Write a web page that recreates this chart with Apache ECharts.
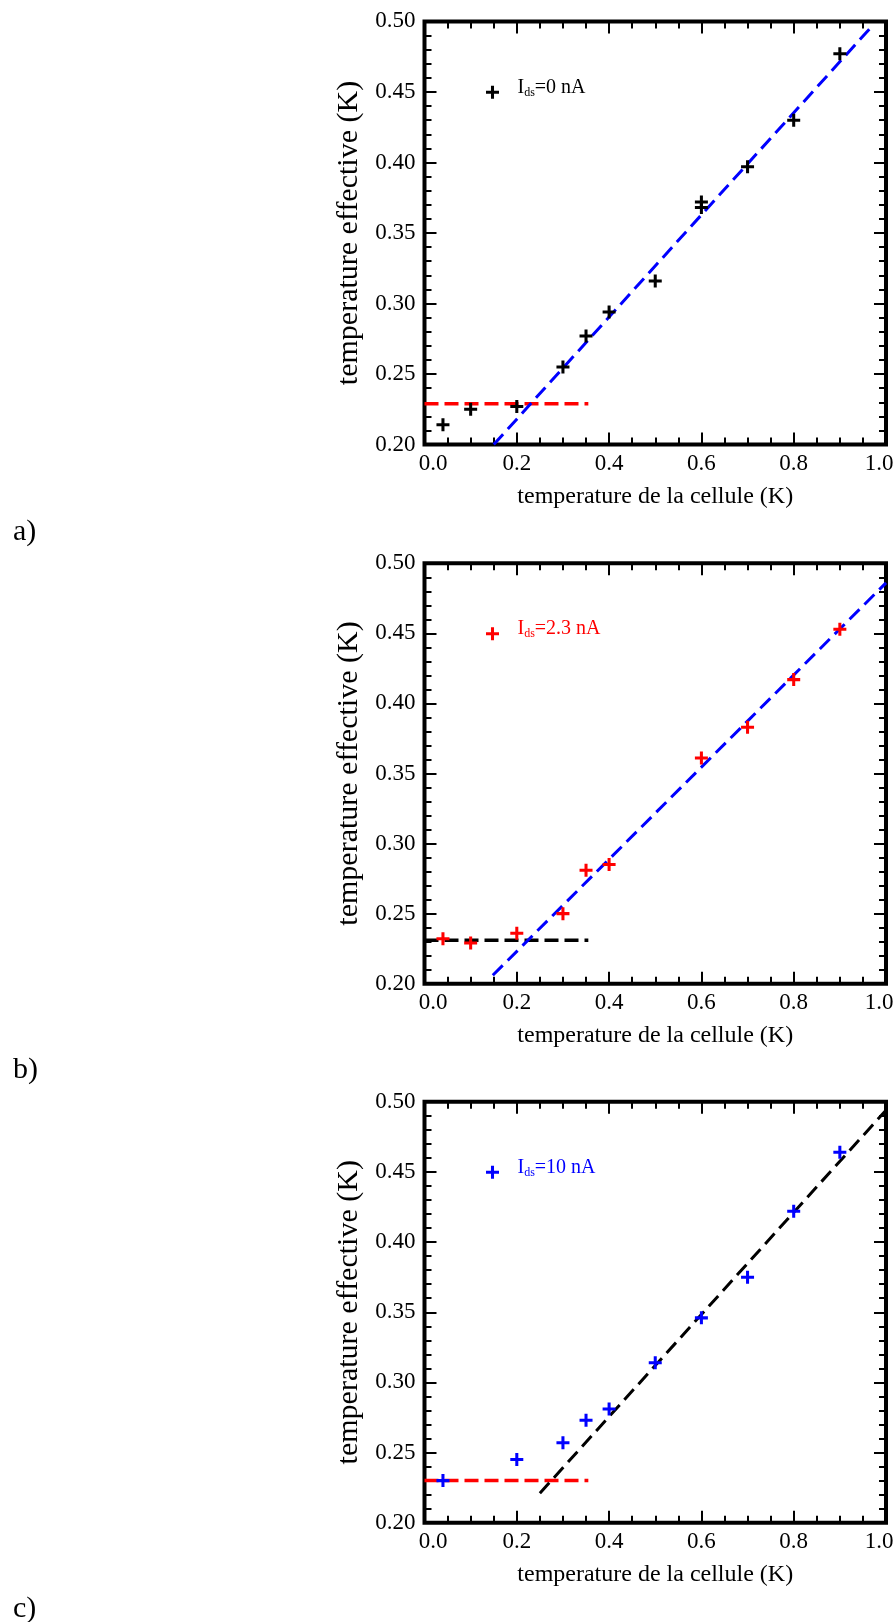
<!DOCTYPE html>
<html>
<head>
<meta charset="utf-8">
<script src="https://cdn.jsdelivr.net/npm/echarts@6/dist/echarts.min.js"></script>
<style>
html,body{margin:0;padding:0;background:#fff;}
#chart{width:895px;height:1622px;}
</style>
</head>
<body>
<div id="chart"></div>
<script>
// ---------------- data ----------------
const xTickInterval = 0.2;
const yTickInterval = 0.05;
const xRange = [0, 1.0];
const yRange = [0.20, 0.50];

const panelLetters = ['a)', 'b)', 'c)'];
const currentsNA = ['0', '2.3', '10'];
const xTitle = 'temperature de la cellule (K)';
const yTitle = 'temperature effective (K)';

// panel a : Ids = 0 nA
const aTcell = [0.04, 0.10, 0.20, 0.30, 0.35, 0.40, 0.50, 0.60, 0.60, 0.70, 0.80, 0.90];
const aTeff  = [0.214, 0.225, 0.227, 0.255, 0.277, 0.294, 0.316, 0.372, 0.368, 0.397, 0.430, 0.477];
const aFitX = [0.15, 0.968];
const aFitY = [0.200, 0.496];
const aFloorX = [0.0, 0.355];
const aFloorY = [0.229, 0.229];

// panel b : Ids = 2.3 nA
const bTcell = [0.04, 0.10, 0.20, 0.30, 0.35, 0.40, 0.60, 0.70, 0.80, 0.90];
const bTeff  = [0.232, 0.229, 0.236, 0.250, 0.281, 0.285, 0.361, 0.383, 0.417, 0.453];
const bFitX = [0.148, 1.0];
const bFitY = [0.206, 0.486];
const bFloorX = [0.0, 0.355];
const bFloorY = [0.231, 0.231];

// panel c : Ids = 10 nA
const cTcell = [0.04, 0.20, 0.30, 0.35, 0.40, 0.50, 0.60, 0.70, 0.80, 0.90];
const cTeff  = [0.230, 0.245, 0.257, 0.273, 0.281, 0.314, 0.346, 0.375, 0.422, 0.464];
const cFitX = [0.25, 1.0];
const cFitY = [0.221, 0.494];
const cFloorX = [0.0, 0.355];
const cFloorY = [0.230, 0.230];

const legendAnchorY = 0.449;

// ---------------- style / layout ----------------
const FONT = '"Liberation Serif","Times New Roman",Times,serif';
const CROSS = 'path://M4.6,0H7.4V4.6H12V7.4H7.4V12H4.6V7.4H0V4.6H4.6Z';
const BLACK = '#000000', RED = '#ff0000', BLUE = '#0000ff';
const GRID_LEFT = 424.5, GRID_WIDTH = 461.5;

const panels = [
  { tx: aTcell, ty: aTeff, fx: aFitX, fy: aFitY, hx: aFloorX, hy: aFloorY,
    color: BLACK, fitColor: BLUE, floorColor: RED, top: 21.4, height: 423.2, letterTop: 517 },
  { tx: bTcell, ty: bTeff, fx: bFitX, fy: bFitY, hx: bFloorX, hy: bFloorY,
    color: RED, fitColor: BLUE, floorColor: BLACK, top: 563.3, height: 420.4, letterTop: 1055 },
  { tx: cTcell, ty: cTeff, fx: cFitX, fy: cFitY, hx: cFloorX, hy: cFloorY,
    color: BLUE, fitColor: BLACK, floorColor: RED, top: 1101.8, height: 420.9, letterTop: 1594 }
];

const zip = (xs, ys) => xs.map((x, i) => [x, ys[i]]);

const grid = [], xAxis = [], yAxis = [], series = [], legend = [], title = [];

function tickSet(split) {
  return {
    axisLine: { show: false, onZero: false },
    splitLine: { show: false },
    axisTick: { show: true, inside: true, length: 12, lineStyle: { color: BLACK, width: 2 } },
    minorTick: { show: true, splitNumber: split, length: 7, lineStyle: { color: BLACK, width: 2 } }
  };
}

const xLabelFormatter = v => {
  const s = v.toFixed(1);
  if (v <= xRange[0]) return '{lo|' + s + '}';
  if (v >= xRange[1]) return '{hi|' + s + '}';
  return s;
};

panels.forEach((p, i) => {
  grid.push({
    left: GRID_LEFT, top: p.top, width: GRID_WIDTH, height: p.height,
    show: true, borderColor: BLACK, borderWidth: 4, backgroundColor: 'transparent',
    containLabel: false, outerBoundsMode: 'none'
  });

  const xBase = Object.assign(tickSet(4), {
    gridIndex: i, type: 'value', min: xRange[0], max: xRange[1], interval: xTickInterval
  });
  xAxis.push(Object.assign({}, xBase, {
    position: 'bottom',
    axisLabel: { show: true, margin: 8, color: BLACK, fontFamily: FONT, fontSize: 23,
      formatter: xLabelFormatter,
      rich: {
        lo: { fontFamily: FONT, fontSize: 23, color: BLACK, padding: [0, 0, 0, 17] },
        hi: { fontFamily: FONT, fontSize: 23, color: BLACK, padding: [0, 14, 0, 0] }
      } },
    name: xTitle, nameLocation: 'middle', nameGap: 40,
    nameTextStyle: { color: BLACK, fontFamily: FONT, fontSize: 24 }
  }));
  xAxis.push(Object.assign({}, xBase, { position: 'top', axisLabel: { show: false } }));

  const yBase = Object.assign(tickSet(5), {
    gridIndex: i, type: 'value', min: yRange[0], max: yRange[1], interval: yTickInterval
  });
  yAxis.push(Object.assign({}, yBase, {
    position: 'left',
    axisLabel: { show: true, margin: 9, color: BLACK, fontFamily: FONT, fontSize: 23,
      formatter: v => v.toFixed(2) },
    name: yTitle, nameLocation: 'middle', nameGap: 55, nameRotate: 90,
    nameTextStyle: { color: BLACK, fontFamily: FONT, fontSize: 30 }
  }));
  yAxis.push(Object.assign({}, yBase, { position: 'right', axisLabel: { show: false } }));

  const seriesName = 'Ids=' + currentsNA[i] + ' nA';

  series.push({
    type: 'line', name: 'floor' + i, xAxisIndex: 2 * i, yAxisIndex: 2 * i,
    data: zip(p.hx, p.hy), showSymbol: false, symbol: 'none', silent: true, z: 3,
    lineStyle: { color: p.floorColor, width: 3.5, type: [14, 6] }
  });
  series.push({
    type: 'line', name: 'fit' + i, xAxisIndex: 2 * i, yAxisIndex: 2 * i,
    data: zip(p.fx, p.fy), showSymbol: false, symbol: 'none', silent: true, z: 3,
    lineStyle: { color: p.fitColor, width: 3, type: [14, 7] }
  });
  series.push({
    type: 'scatter', name: seriesName, xAxisIndex: 2 * i, yAxisIndex: 2 * i,
    data: zip(p.tx, p.ty), symbol: CROSS, symbolSize: 13, z: 4,
    itemStyle: { color: p.color, opacity: 1 }
  });

  const iconCenterY = p.top + (yRange[1] - legendAnchorY) / (yRange[1] - yRange[0]) * p.height;
  legend.push({
    data: [seriesName], left: 486, top: iconCenterY - 16, padding: 0,
    icon: CROSS, itemWidth: 40, itemHeight: 13, selectedMode: false,
    formatter: () => '{m|I}{s|ds}{m|=' + currentsNA[i] + ' nA}',
    textStyle: {
      color: p.color, fontFamily: FONT, padding: [0, 0, 10, 0],
      rich: {
        m: { fontFamily: FONT, fontSize: 20, lineHeight: 22, color: p.color },
        s: { fontFamily: FONT, fontSize: 12, lineHeight: 6, verticalAlign: 'bottom', color: p.color }
      }
    }
  });

  title.push({
    text: panelLetters[i], left: 13, top: p.letterTop, padding: 0,
    textStyle: { fontFamily: FONT, fontSize: 30, fontWeight: 'normal', color: BLACK }
  });
});

const chart = echarts.init(document.getElementById('chart'), null, { renderer: 'canvas' });
chart.setOption({
  backgroundColor: '#ffffff',
  animation: false,
  title, grid, xAxis, yAxis, legend, series,
  tooltip: { show: false }
});
</script>
</body>
</html>
